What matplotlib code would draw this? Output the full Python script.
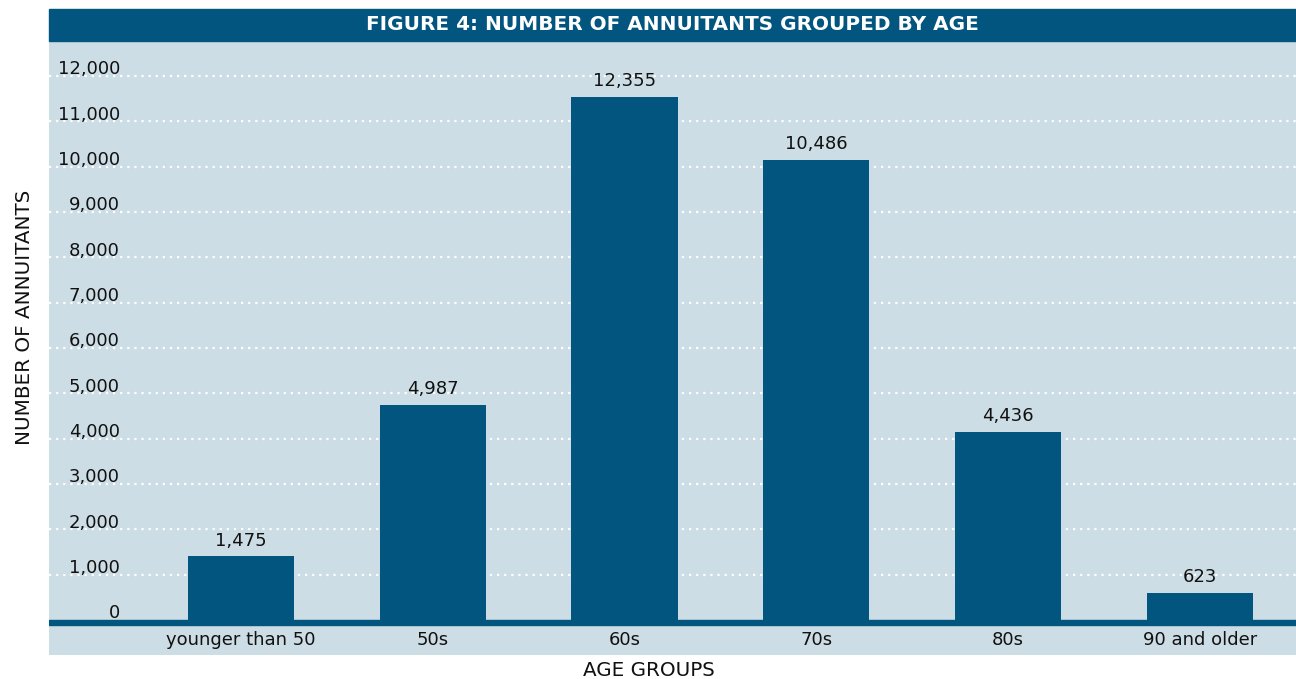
"""
Figure 4: number of annuitants grouped by age
"""

import matplotlib
matplotlib.use("Agg")
import matplotlib.pyplot as plt
from matplotlib.patches import Rectangle
from matplotlib.transforms import blended_transform_factory

# 数据
age_groups = ["younger than 50", "50s", "60s", "70s", "80s", "90 and older"]
annuitants = [1475, 4987, 12355, 10486, 4436, 623]
# 图中柱子实际画出的高度 (按网格刻度读取)
bar_heights = [1410, 4750, 11540, 10150, 4150, 600]
y_ticks = [0, 1000, 2000, 3000, 4000, 5000, 6000, 7000, 8000, 9000, 10000, 11000, 12000]

DARK = "#02557f"
LIGHT = "#cddde5"

plt.rcParams["font.family"] = ["DejaVu Sans"]

W, H = 1296, 679
fig = plt.figure(figsize=(W / 100, H / 100), dpi=100)
fig.patch.set_facecolor("white")


def fx(px):
    return px / W


def fy(py):
    return 1 - py / H


# 标题栏
fig.patches.append(Rectangle((fx(49), fy(41)), fx(W - 49), fy(9) - fy(41),
                             transform=fig.transFigure, color=DARK, zorder=0))
fig.text(fx(672), fy(25), "FIGURE 4: NUMBER OF ANNUITANTS GROUPED BY AGE",
         color="white", fontsize=14.4, fontweight="bold", ha="center", va="center")

# 图表区域
ax = fig.add_axes([fx(49), fy(655), fx(W - 49), fy(41) - fy(655)])
ax.set_facecolor(LIGHT)
for s in ax.spines.values():
    s.set_visible(False)
ax.set_xticks([])
ax.set_yticks([])
ax.set_xlim(-1.0, 5.5)
ax.set_ylim(-772, 12773)

# 网格线和刻度标签
lab_tr = blended_transform_factory(ax.transAxes, ax.transData)
for t in y_ticks:
    if t > 0:
        ax.axhline(t, color="white", linestyle=(0, (1, 2.2)), linewidth=1.6, zorder=1)
    ax.text((120 - 49) / (W - 49), t + 35, f"{t:,}", transform=lab_tr,
            ha="right", va="baseline", fontsize=13, color="#111111", zorder=3)

# 柱状图
x = list(range(len(age_groups)))
ax.bar(x, bar_heights, width=0.553, color=DARK, zorder=2)
for xi, h, n in zip(x, bar_heights, annuitants):
    ax.annotate(f"{n:,}", (xi, h), xytext=(0, 7.5), textcoords="offset points",
                ha="center", va="baseline", fontsize=13, color="#111111")

# 基线
ax.axhspan(-115, 0, color=DARK, zorder=4)

# 分类标签
for xi, name in zip(x, age_groups):
    ax.text(xi, -441, name, ha="center", va="center", fontsize=13, color="#111111")

fig.text(fx(649), fy(670), "AGE GROUPS", ha="center", va="center",
         fontsize=14.3, color="#111111")
fig.text(fx(25), fy(317), "NUMBER OF ANNUITANTS", ha="center", va="center",
         rotation=90, fontsize=14.3, color="#111111")

plt.savefig("out.png", dpi=100)
plt.close()
